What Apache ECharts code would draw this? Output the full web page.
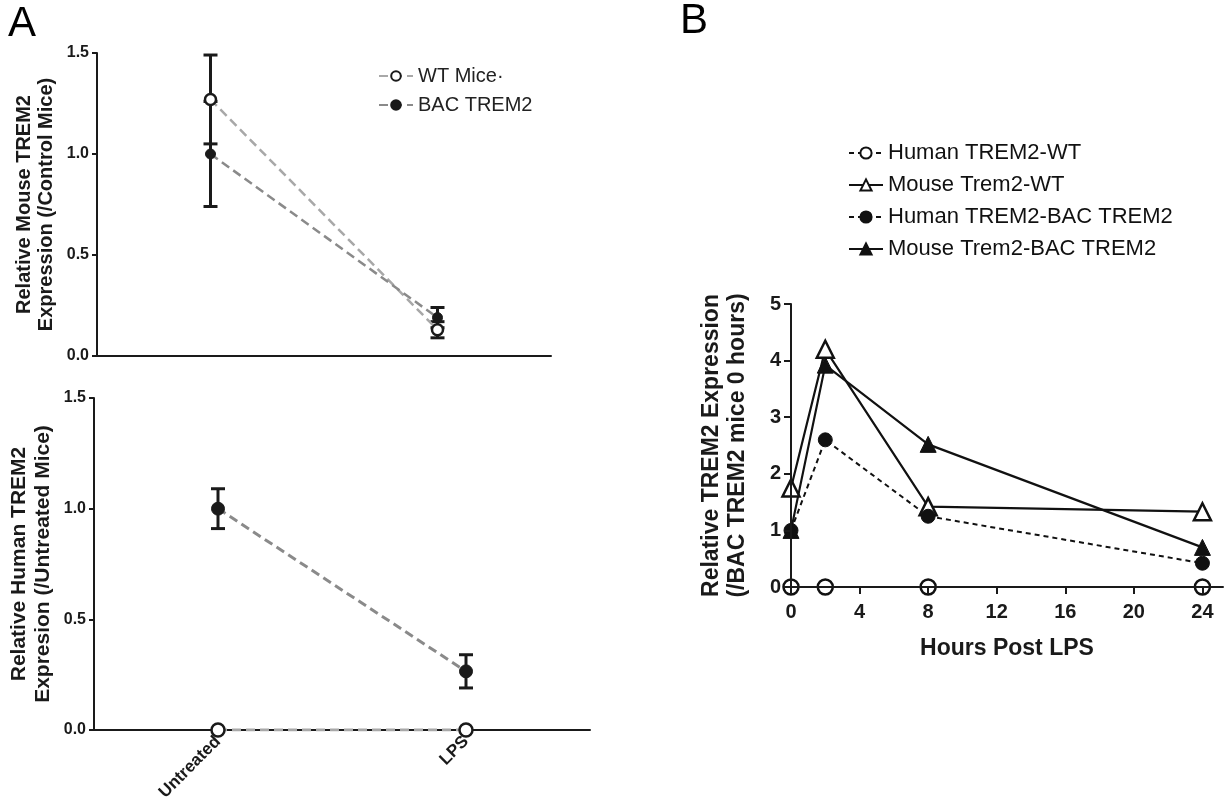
<!DOCTYPE html>
<html><head><meta charset="utf-8">
<script src="https://cdn.jsdelivr.net/npm/echarts@6/dist/echarts.min.js"></script>
<style>html,body{margin:0;padding:0;background:#fff}#c{width:1225px;height:810px}</style>
</head><body><div id="c"></div>
<script>
// ---- Panel A data ----
const catsA = ['Untreated', 'LPS'];
const mouseWT = [1.27, 0.13];
const mouseWTErr = [0.22, 0.04];
const mouseBAC = [1.00, 0.19];
const mouseBACErr = [0.26, 0.05];
const humanWT = [0.0, 0.0];
const humanBAC = [1.00, 0.265];
const humanBACErr = [0.09, 0.075];
const yTicksA = [0, 0.5, 1.0, 1.5];
// ---- Panel B data ----
const hoursB = [0, 2, 8, 24];
const humanWT_B = [0, 0, 0, 0];
const mouseWT_B = [1.75, 4.2, 1.42, 1.33];
const humanBAC_B = [1.0, 2.6, 1.25, 0.42];
const mouseBAC_B = [1.0, 3.92, 2.52, 0.70];
const xTicksB = [0, 4, 8, 12, 16, 20, 24];

const FONT = 'Arial, "Liberation Sans", sans-serif';
const errData = (m, e) => m.map((v, i) => [i, v - e[i], v + e[i]]);
function errRender(params, api) {
  const x = api.value(0), lo = api.value(1), hi = api.value(2);
  const p1 = api.coord([x, lo]), p2 = api.coord([x, hi]);
  const w = 7;
  const st = { stroke: '#1a1a1a', lineWidth: 3 };
  return { type: 'group', children: [
    { type: 'line', shape: { x1: p1[0], y1: p1[1], x2: p2[0], y2: p2[1] }, style: st },
    { type: 'line', shape: { x1: p1[0]-w, y1: p1[1], x2: p1[0]+w, y2: p1[1] }, style: st },
    { type: 'line', shape: { x1: p2[0]-w, y1: p2[1], x2: p2[0]+w, y2: p2[1] }, style: st }
  ]};
}
const axisLine = { show: true, lineStyle: { color: '#1a1a1a', width: 2 } };
const tickStyle = { color: '#1a1a1a', width: 2 };

const chart = echarts.init(document.getElementById('c'));
chart.setOption({
  animation: false,
  textStyle: { fontFamily: FONT },
  graphic: [
    { type: 'text', left: 8, top: 3, style: { text: 'A', font: '42px ' + FONT, fill: '#000' } },
    { type: 'text', left: 680, top: 0, style: { text: 'B', font: '42px ' + FONT, fill: '#000' } }
  ],
  legend: [
    { left: 373, top: 61, orient: 'vertical', itemGap: 9, itemWidth: 34, itemHeight: 12,
      data: ['WT Mice·', 'BAC TREM2'],
      textStyle: { fontSize: 20, color: '#222', fontFamily: FONT } },
    { left: 843, top: 137, orient: 'vertical', itemGap: 10, itemWidth: 34, itemHeight: 14,
      data: ['Human TREM2-WT', 'Mouse Trem2-WT', 'Human TREM2-BAC TREM2', 'Mouse Trem2-BAC TREM2'],
      textStyle: { fontSize: 22, color: '#111', fontFamily: FONT } }
  ],
  grid: [
    { left: 97, top: 53, width: 454, height: 303 },
    { left: 94, top: 398, width: 496, height: 332 },
    { left: 791, top: 304, width: 432, height: 283 }
  ],
  xAxis: [
    { gridIndex: 0, type: 'category', data: catsA, boundaryGap: true, axisLine: axisLine,
      axisTick: { show: false }, axisLabel: { show: false } },
    { gridIndex: 1, type: 'category', data: catsA, boundaryGap: true, axisLine: axisLine,
      axisTick: { show: false },
      axisLabel: { rotate: 45, fontSize: 17, fontWeight: 'bold', color: '#1a1a1a', margin: 9, fontFamily: FONT } },
    { gridIndex: 2, type: 'value', min: 0, max: 25.2, axisLine: axisLine, z: 10,
      splitLine: { show: false },
      axisTick: { show: true, customValues: xTicksB, length: 7, lineStyle: tickStyle },
      axisLabel: { customValues: xTicksB, fontSize: 20, fontWeight: 'bold', color: '#1a1a1a', margin: 15, fontFamily: FONT },
      name: 'Hours Post LPS', nameLocation: 'middle', nameGap: 50,
      nameTextStyle: { fontSize: 23, fontWeight: 'bold', color: '#1a1a1a', fontFamily: FONT } }
  ],
  yAxis: [
    { gridIndex: 0, type: 'value', min: 0, max: 1.5, splitLine: { show: false }, axisLine: axisLine,
      axisTick: { show: true, customValues: yTicksA, length: 5, lineStyle: tickStyle },
      axisLabel: { customValues: yTicksA, formatter: v => v.toFixed(1), fontSize: 16, fontWeight: 'bold', color: '#1a1a1a', margin: 8, fontFamily: FONT },
      name: 'Relative Mouse TREM2\nExpression (/Control Mice)', nameLocation: 'middle', nameGap: 40,
      nameTextStyle: { fontSize: 20, fontWeight: 'bold', color: '#1a1a1a', lineHeight: 22, fontFamily: FONT } },
    { gridIndex: 1, type: 'value', min: 0, max: 1.5, splitLine: { show: false }, axisLine: axisLine,
      axisTick: { show: true, customValues: yTicksA, length: 5, lineStyle: tickStyle },
      axisLabel: { customValues: yTicksA, formatter: v => v.toFixed(1), fontSize: 16, fontWeight: 'bold', color: '#1a1a1a', margin: 8, fontFamily: FONT },
      name: 'Relative Human TREM2\nExpresion (/Untreated Mice)', nameLocation: 'middle', nameGap: 39,
      nameTextStyle: { fontSize: 21, fontWeight: 'bold', color: '#1a1a1a', lineHeight: 24, fontFamily: FONT } },
    { gridIndex: 2, type: 'value', min: 0, max: 5, interval: 1, splitLine: { show: false }, axisLine: axisLine, z: 10,
      axisTick: { show: true, length: 7, lineStyle: tickStyle },
      axisLabel: { fontSize: 20, fontWeight: 'bold', color: '#1a1a1a', margin: 10, fontFamily: FONT },
      name: 'Relative TREM2 Expression\n(/BAC TREM2 mice 0 hours)', nameLocation: 'middle', nameGap: 40,
      nameTextStyle: { fontSize: 23, fontWeight: 'bold', color: '#1a1a1a', lineHeight: 26, fontFamily: FONT } }
  ],
  series: [
    // Panel A top
    { type: 'custom', xAxisIndex: 0, yAxisIndex: 0, renderItem: errRender, data: errData(mouseBAC, mouseBACErr), z: 2, silent: true },
    { type: 'custom', xAxisIndex: 0, yAxisIndex: 0, renderItem: errRender, data: errData(mouseWT, mouseWTErr), z: 2, silent: true },
    { name: 'WT Mice·', type: 'line', xAxisIndex: 0, yAxisIndex: 0, data: mouseWT, z: 3,
      symbol: 'circle', symbolSize: 11,
      lineStyle: { color: '#a8a8a8', width: 2.5, type: [9, 5] },
      itemStyle: { color: '#fff', borderColor: '#1a1a1a', borderWidth: 2.5 } },
    { name: 'BAC TREM2', type: 'line', xAxisIndex: 0, yAxisIndex: 0, data: mouseBAC, z: 4,
      symbol: 'circle', symbolSize: 10,
      lineStyle: { color: '#8a8a8a', width: 2.5, type: [9, 5] },
      itemStyle: { color: '#1a1a1a', borderColor: '#1a1a1a', borderWidth: 1 } },
    // Panel A bottom
    { type: 'custom', xAxisIndex: 1, yAxisIndex: 1, renderItem: errRender, data: errData(humanBAC, humanBACErr), z: 2, silent: true },
    { name: 'WT Mice·', type: 'line', xAxisIndex: 1, yAxisIndex: 1, data: humanWT, z: 3,
      symbol: 'circle', symbolSize: 13,
      lineStyle: { color: '#a8a8a8', width: 3, type: [9, 5] },
      itemStyle: { color: '#fff', borderColor: '#1a1a1a', borderWidth: 2.5 } },
    { name: 'BAC TREM2', type: 'line', xAxisIndex: 1, yAxisIndex: 1, data: humanBAC, z: 4,
      symbol: 'circle', symbolSize: 13,
      lineStyle: { color: '#8a8a8a', width: 3, type: [9, 5] },
      itemStyle: { color: '#1a1a1a', borderColor: '#1a1a1a', borderWidth: 1 } },
    // Panel B
    { name: 'Human TREM2-WT', type: 'line', xAxisIndex: 2, yAxisIndex: 2, z: 5,
      data: hoursB.map((h, i) => [h, humanWT_B[i]]),
      symbol: 'circle', symbolSize: 15,
      lineStyle: { color: '#111', width: 2, type: [5, 4] },
      itemStyle: { color: '#fff', borderColor: '#111', borderWidth: 2.5 } },
    { name: 'Mouse Trem2-WT', type: 'line', xAxisIndex: 2, yAxisIndex: 2, z: 4,
      data: hoursB.map((h, i) => [h, mouseWT_B[i]]),
      symbol: 'triangle', symbolSize: 17,
      lineStyle: { color: '#111', width: 2.2 },
      itemStyle: { color: '#fff', borderColor: '#111', borderWidth: 2.5 } },
    { name: 'Human TREM2-BAC TREM2', type: 'line', xAxisIndex: 2, yAxisIndex: 2, z: 4,
      data: hoursB.map((h, i) => [h, humanBAC_B[i]]),
      symbol: 'circle', symbolSize: 14,
      lineStyle: { color: '#111', width: 2, type: [5, 4] },
      itemStyle: { color: '#111', borderColor: '#111', borderWidth: 1 } },
    { name: 'Mouse Trem2-BAC TREM2', type: 'line', xAxisIndex: 2, yAxisIndex: 2, z: 4,
      data: hoursB.map((h, i) => [h, mouseBAC_B[i]]),
      symbol: 'triangle', symbolSize: 16,
      lineStyle: { color: '#111', width: 2.2 },
      itemStyle: { color: '#111', borderColor: '#111', borderWidth: 1 } }
  ]
});
</script></body></html>
